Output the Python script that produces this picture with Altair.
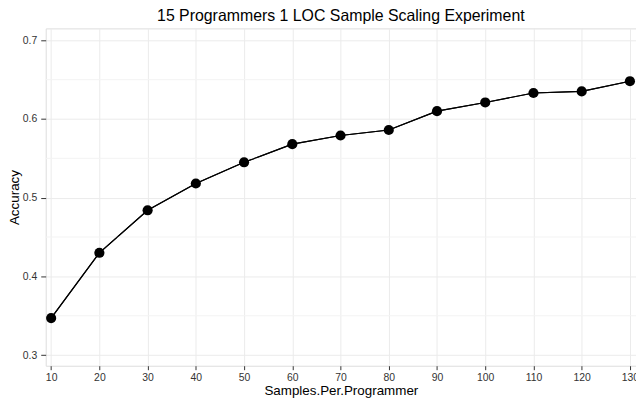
import altair as alt
import pandas as pd

samples = [10, 20, 30, 40, 50, 60, 70, 80, 90, 100, 110, 120, 130]
accuracy = [0.347, 0.430, 0.484, 0.518, 0.545, 0.568, 0.579, 0.586, 0.610, 0.621, 0.633, 0.635, 0.648]
x_ticks = [10, 20, 30, 40, 50, 60, 70, 80, 90, 100, 110, 120, 130]
y_ticks = [0.3, 0.4, 0.5, 0.6, 0.7]
y_minor = [0.35, 0.45, 0.55, 0.65]

df = pd.DataFrame({"samples": samples, "accuracy": accuracy})
minor_df = pd.DataFrame({"v": y_minor})

xscale = alt.Scale(domain=[8.87, 131.26], nice=False, zero=False)
yscale = alt.Scale(domain=[0.2865, 0.7151], nice=False, zero=False)

font = "Liberation Sans"

x_axis = alt.Axis(values=x_ticks, grid=True, gridColor="#ebebeb", domain=False,
                  tickColor="#333333", tickSize=4, labelColor="#333333", labelFontSize=10.5,
                  labelFont=font, titleFont=font, titleFontSize=13.5, titleFontWeight="normal",
                  titleColor="#000000", labelPadding=3, titlePadding=1)
y_axis = alt.Axis(values=y_ticks, grid=True, gridColor="#ebebeb", domain=False,
                  tickColor="#333333", tickSize=5, labelColor="#333333", labelFontSize=10.5,
                  labelFont=font, titleFont=font, titleFontSize=13.5, titleFontWeight="normal",
                  titleColor="#000000", labelPadding=4, titlePadding=1, format=".1f")

line = alt.Chart(df).mark_line(color="black", strokeWidth=1.2).encode(
    x=alt.X("samples:Q", scale=xscale, axis=x_axis, title="Samples.Per.Programmer"),
    y=alt.Y("accuracy:Q", scale=yscale, axis=y_axis, title="Accuracy"),
)
minor = alt.Chart(minor_df).mark_rule(color="#f3f3f3", strokeWidth=1).encode(
    y=alt.Y("v:Q", scale=yscale)
)
points = alt.Chart(df).mark_point(filled=True, color="black", size=105, opacity=1).encode(
    x=alt.X("samples:Q", scale=xscale),
    y=alt.Y("accuracy:Q", scale=yscale),
)

chart = alt.layer(line, minor, line, points).properties(
    width=595, height=340,
    title=alt.TitleParams("15 Programmers 1 LOC Sample Scaling Experiment", font=font,
                          fontSize=16, fontWeight="normal", color="#000000", anchor="middle",
                          offset=4),
    autosize=alt.AutoSizeParams(type="none"),
    padding={"left": 38, "top": 19, "right": 0, "bottom": 36},
).configure_view(stroke="#9a9a9a", strokeWidth=1).configure(background="white")

chart.save("out.html", embed_options={"renderer": "svg", "actions": False})
